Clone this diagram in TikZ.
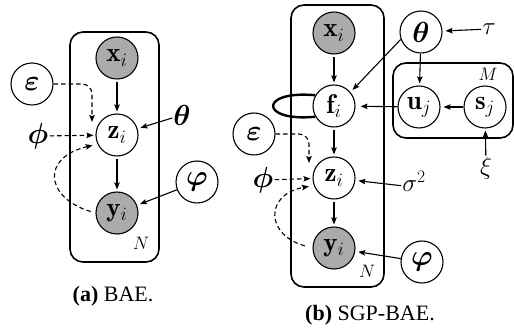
\RequirePackage{fix-cm}
\documentclass[tikz,border=0pt]{standalone}
\usepackage{amsmath}
\usepackage{fontspec}
\newfontfamily\capfont{Liberation Serif}
\usetikzlibrary{arrows.meta}

\begin{document}
\begin{tikzpicture}[x=1pt,y=-1pt,
  every node/.style={font=\fontsize{27}{30}\selectfont},
  var/.style={circle,draw,line width=1.1pt,minimum size=42pt,inner sep=0pt,fill=white},
  obs/.style={var,fill=black!33},
  greek/.style={font=\fontsize{29}{32}\selectfont},
  plate/.style={draw,line width=1.6pt,rounded corners=13pt},
  platelbl/.style={font=\fontsize{18}{20}\selectfont,inner sep=0pt},
  lbl/.style={inner sep=1pt},
  thin/.style={font=\fontsize{25}{28}\selectfont},
  arr/.style={-{Stealth[length=7pt,width=5.5pt,inset=1.2pt]},line width=1.1pt},
  darr/.style={arr,dash pattern=on 4.5pt off 3pt},
  captext/.style={font=\capfont\fontsize{22}{26}\selectfont,inner sep=0pt}
]
\useasboundingbox (0,0) rectangle (514,328);

% ---------------- (a) BAE ----------------
\draw[plate] (70,32) rectangle (159,262);
\node[platelbl] (nA) at (141,243) {$N$};

\node[obs] (xA) at (117,58) {$\mathbf{x}_i$};
\node[var] (zA) at (117,135) {$\mathbf{z}_i$};
\node[obs] (yA) at (117,213) {$\mathbf{y}_i$};
\node[var,greek] (epsA) at (32,84) {$\boldsymbol{\varepsilon}$};
\node[lbl,greek] (phiA) at (38,136) {$\boldsymbol{\phi}$};
\node[lbl,greek] (thetaA) at (182,115) {$\boldsymbol{\theta}$};
\node[var,greek] (vphiA) at (197,182) {$\boldsymbol{\varphi}$};
\coordinate (epsAend) at (92,122);

\draw[arr,shorten <=2pt,shorten >=2pt] (xA) -- (zA);
\draw[arr,shorten <=2pt,shorten >=2pt] (zA) -- (yA);
\draw[arr,shorten >=3pt] (thetaA) -- (zA);
\draw[arr,shorten >=3pt] (vphiA) -- (yA);
\draw[darr,rounded corners=10pt] (epsA.east) -| (epsAend);
\draw[darr,shorten >=2pt] (phiA) -- (zA);
\draw[darr,shorten <=5pt,shorten >=5pt] (yA.west) .. controls (46,198) and (40,158) .. (zA.205);

\node[captext] (capA) at (113,296) {\textbf{(a)} BAE.};

% ---------------- (b) SGP-BAE ----------------
\draw[plate] (291,5) rectangle (384,287);
\node[platelbl] (nB) at (367,271) {$N$};
\draw[plate] (393,63) rectangle (513,138);
\node[platelbl] (mB) at (488,74) {$M$};

\node[obs] (xB) at (334,33) {$\mathbf{x}_i$};
\node[var] (fB) at (334,106) {$\mathbf{f}_i$};
\node[var] (zB) at (334,178) {$\mathbf{z}_i$};
\node[obs] (yB) at (334,248) {$\mathbf{y}_i$};
\node[var,greek] (thetaB) at (421,32) {$\boldsymbol{\theta}$};
\node[lbl,thin] (tauB) at (489,29) {$\tau$};
\node[var] (uB) at (419,107) {$\mathbf{u}_j$};
\node[var] (sB) at (485,107) {$\mathbf{s}_j$};
\node[lbl,thin] (xiB) at (486,168) {$\xi$};
\node[var,greek] (epsB) at (254,134) {$\boldsymbol{\varepsilon}$};
\node[lbl,greek] (phiB) at (263,180) {$\boldsymbol{\phi}$};
\node[lbl,thin] (sigmaB) at (414,181) {$\sigma^2$};
\node[var,greek] (vphiB) at (422,262) {$\boldsymbol{\varphi}$};
\coordinate (epsBend) at (309,163);

% self-loop on f_i
\draw[line width=2.4pt] (fB.150) .. controls (259,90) and (259,122) .. (fB.210);

\draw[arr,shorten <=2pt,shorten >=2pt] (xB) -- (fB);
\draw[arr,shorten <=2pt,shorten >=2pt] (fB) -- (zB);
\draw[arr,shorten <=2pt,shorten >=2pt] (zB) -- (yB);
\draw[arr,shorten >=3pt] (thetaB.200) -- (fB.40);
\draw[arr,shorten >=2pt] (thetaB) -- (uB);
\draw[arr,shorten >=3pt] (tauB) -- (thetaB);
\draw[arr,shorten >=5pt] (uB) -- (fB);
\draw[arr,shorten >=3pt] (sB) -- (uB);
\draw[arr,shorten >=2pt] (xiB) -- (sB);
\draw[arr,shorten >=3pt] (sigmaB.200) -- (zB);
\draw[arr,shorten >=3pt] (vphiB) -- (yB);
\draw[darr,rounded corners=10pt] (epsB.east) -| (epsBend);
\draw[darr,shorten >=2pt] (phiB) -- (zB);
\draw[darr,shorten <=8pt,shorten >=5pt] (yB.west) .. controls (266,235) and (264,195) .. (zB.200);

\node[captext] (capB) at (370,315) {\textbf{(b)} SGP-BAE.};
\end{tikzpicture}
\end{document}
